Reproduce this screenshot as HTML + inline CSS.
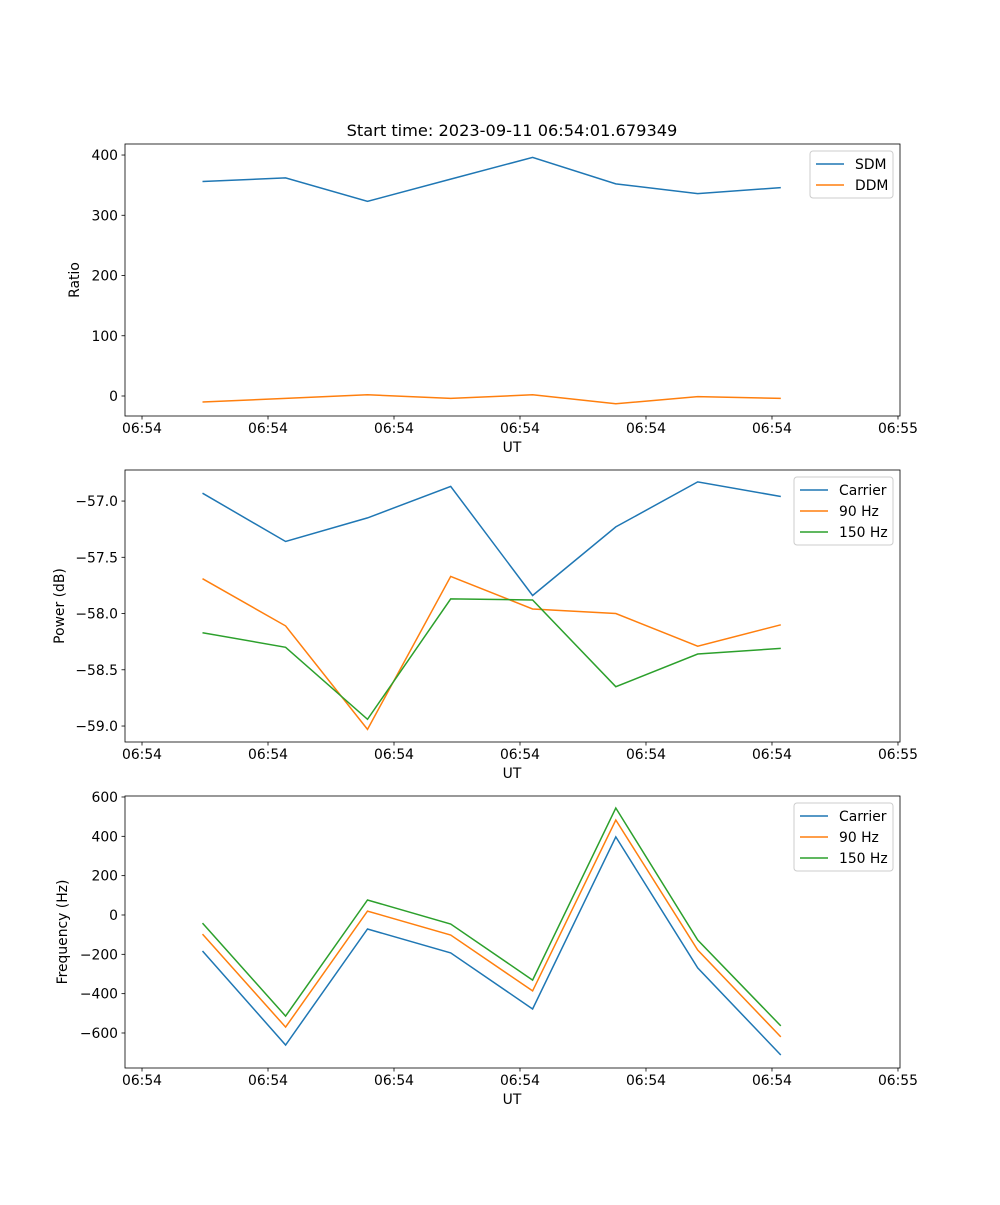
<!DOCTYPE html>
<html><head><meta charset="utf-8"><style>
html,body{margin:0;padding:0;background:#fff;}
svg text{font-family:"DejaVu Sans","Liberation Sans",sans-serif;fill:#000;}
</style></head><body>
<svg id="fig" width="1000" height="1200" xmlns="http://www.w3.org/2000/svg">
<rect width="1000" height="1200" fill="#fff"/>
<text x="512" y="136" font-size="16.2" text-anchor="middle">Start time: 2023-09-11 06:54:01.679349</text>
</svg>
<script>
// shared x data (seconds from first tick)
const times = [4.8, 11.4, 17.9, 24.5, 31.0, 37.6, 44.1, 50.7];
const xTicks = [0, 10, 20, 30, 40, 50, 60];
const xTickLabels = ["06:54","06:54","06:54","06:54","06:54","06:54","06:55"];
// panel 1
const sdm = [356, 362, 323, 360, 396, 352, 336, 346];
const ddm = [-10, -4, 2, -4, 2, -13, -1, -4];
const ratioTicks = [0, 100, 200, 300, 400];
// panel 2
const powCarrier = [-56.93, -57.36, -57.15, -56.87, -57.84, -57.23, -56.83, -56.96];
const pow90 = [-57.69, -58.11, -59.03, -57.67, -57.96, -58.00, -58.29, -58.10];
const pow150 = [-58.17, -58.30, -58.94, -57.87, -57.88, -58.65, -58.36, -58.31];
const powTicks = [-57.0, -57.5, -58.0, -58.5, -59.0];
// panel 3
const freqCarrier = [-183, -661, -71, -193, -478, 397, -269, -712];
const freq90 = [-97, -570, 20, -102, -386, 483, -178, -620];
const freq150 = [-41, -514, 76, -46, -331, 544, -127, -564];
const freqTicks = [-600, -400, -200, 0, 200, 400, 600];

const NS="http://www.w3.org/2000/svg";
const svg=document.getElementById('fig');
const C=['#1f77b4','#ff7f0e','#2ca02c'];
function el(tag,attrs,parent){const e=document.createElementNS(NS,tag);for(const k in attrs)e.setAttribute(k,attrs[k]);(parent||svg).appendChild(e);return e;}
const L=125,R=900,xmin=-1.35,xmax=60.16;
const xs=v=>L+(v-xmin)/(xmax-xmin)*(R-L);
function fmtMinus(s){return s.replace('-','\u2212');}

function panel(name,top,bot,ymin,ymax,yTicks,fmt,ylabel,ylabelX,series,legend){
  const g=el('g',{});
  
  
  const ys=v=>bot-(v-ymin)/(ymax-ymin)*(bot-top);
  series.forEach((s,i)=>{
    const p=el('polyline',{points:s.vals.map((v,j)=>xs(times[j]).toFixed(1)+','+ys(v).toFixed(1)).join(' '),fill:'none',stroke:C[i],'stroke-width':1.5},g);
    
    
  });
  const fr=el('rect',{x:L,y:top,width:R-L,height:bot-top,fill:'none',stroke:'#000','stroke-width':0.8},g);
  
  
  xTicks.forEach((t,i)=>{
    const x=xs(t);
    el('line',{x1:x,x2:x,y1:bot,y2:bot+3.5,stroke:'#000','stroke-width':0.8},g);
    const tx=el('text',{x:x,y:bot+17,'font-size':13.9,'text-anchor':'middle'},g);
    
    
    tx.textContent=xTickLabels[i];
  });
  yTicks.forEach(t=>{
    const y=ys(t);
    el('line',{x1:L-3.5,x2:L,y1:y,y2:y,stroke:'#000','stroke-width':0.8},g);
    const tx=el('text',{x:L-7,y:y+5,'font-size':13.9,'text-anchor':'end'},g);
    
    
    tx.textContent=fmtMinus(fmt(t));
  });
  const xl=el('text',{x:512,y:bot+36,'font-size':13.9,'text-anchor':'middle'},g);
  
  
  xl.textContent='UT';
  const cy=(top+bot)/2;
  const yl=el('text',{x:ylabelX,y:cy,'font-size':13.9,'text-anchor':'middle',transform:`rotate(-90 ${ylabelX} ${cy})`},g);
  
  
  yl.textContent=ylabel;
  // legend
  const lx=legend.x,ly=top+7,lw=R-7-lx,lh=series.length*21+5;
  const lg=el('g',{},g);
  
  
  el('rect',{x:lx,y:ly,width:lw,height:lh,rx:3,fill:'#fff','fill-opacity':0.8,stroke:'#ccc','stroke-width':1},lg);
  series.forEach((s,i)=>{
    const yy=ly+13+i*21;
    const e=el('g',{},lg);
    
    
    el('line',{x1:lx+6,x2:lx+34,y1:yy,y2:yy,stroke:C[i],'stroke-width':1.5},e);
    const t=el('text',{x:lx+45,y:yy+5,'font-size':13.9},e);
    t.textContent=s.label;
  });
}
panel('ratio-panel',144,416,-33.2,418.3,ratioTicks,v=>String(v),'Ratio',79,
  [{id:'sdm',label:'SDM',vals:sdm},{id:'ddm',label:'DDM',vals:ddm}],{x:810});
panel('power-panel',470,742,-59.142,-56.724,powTicks,v=>v.toFixed(1),'Power (dB)',64,
  [{id:'power-carrier',label:'Carrier',vals:powCarrier},{id:'power-90hz',label:'90 Hz',vals:pow90},{id:'power-150hz',label:'150 Hz',vals:pow150}],{x:794});
panel('frequency-panel',796,1068,-778,605,freqTicks,v=>String(v),'Frequency (Hz)',67,
  [{id:'freq-carrier',label:'Carrier',vals:freqCarrier},{id:'freq-90hz',label:'90 Hz',vals:freq90},{id:'freq-150hz',label:'150 Hz',vals:freq150}],{x:794});
</script>
</body></html>
